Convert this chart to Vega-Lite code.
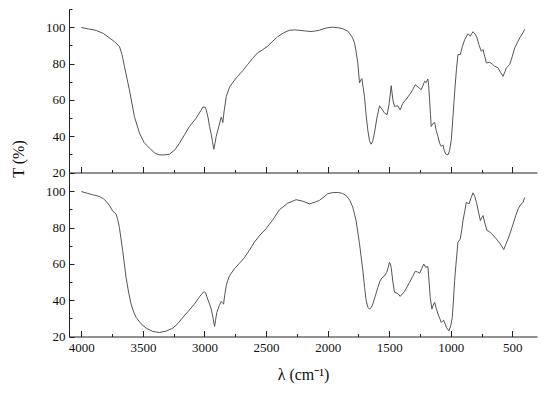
{
  "$schema": "https://vega.github.io/schema/vega-lite/v6.json",
  "padding": {"left": 10, "top": 3, "right": 10, "bottom": 7},
  "spacing": 0,
  "bounds": "flush",
  "background": "white",
  "config": {
    "view": {"stroke": null},
    "axis": {
      "domainColor": "#222", "tickColor": "#222", "labelColor": "#111", "titleColor": "#111",
      "labelFont": "Liberation Serif", "labelFontSize": 13,
      "titleFont": "Liberation Serif", "titleFontSize": 16, "titleFontWeight": "normal",
      "grid": false, "labelOverlap": false, "labelFlush": false
    }
  },
  "datasets": {
    "top": [
      {"wn":4000,"t":99.8},{"wn":3940,"t":99},{"wn":3880,"t":98.2},{"wn":3820,"t":96.5},{"wn":3772,"t":94.1},{"wn":3730,"t":92},{"wn":3691,"t":89.5},{"wn":3670,"t":85},{"wn":3650,"t":78.5},{"wn":3610,"t":65.6},{"wn":3569,"t":50.8},{"wn":3528,"t":41.7},{"wn":3490,"t":36.5},{"wn":3447,"t":33.4},{"wn":3400,"t":30.5},{"wn":3366,"t":29.7},{"wn":3320,"t":29.7},{"wn":3284,"t":30.1},{"wn":3240,"t":32.5},{"wn":3203,"t":36.1},{"wn":3160,"t":41},{"wn":3122,"t":45.3},{"wn":3067,"t":50},{"wn":3030,"t":54},{"wn":3013,"t":56},{"wn":2995,"t":56},{"wn":2986,"t":54.5},{"wn":2970,"t":50},{"wn":2959,"t":45.3},{"wn":2945,"t":41},{"wn":2935,"t":37},{"wn":2924,"t":32.8},{"wn":2915,"t":36},{"wn":2905,"t":39.8},{"wn":2885,"t":45},{"wn":2864,"t":50.5},{"wn":2856,"t":49},{"wn":2851,"t":47.5},{"wn":2840,"t":54},{"wn":2823,"t":61.9},{"wn":2796,"t":67},{"wn":2760,"t":70.5},{"wn":2731,"t":72.9},{"wn":2690,"t":76},{"wn":2650,"t":79.4},{"wn":2610,"t":82.8},{"wn":2568,"t":85.9},{"wn":2530,"t":87.5},{"wn":2487,"t":89.5},{"wn":2450,"t":92},{"wn":2406,"t":94.7},{"wn":2360,"t":96.8},{"wn":2311,"t":98.3},{"wn":2270,"t":98.5},{"wn":2230,"t":98.3},{"wn":2180,"t":97.9},{"wn":2135,"t":97.6},{"wn":2100,"t":97.9},{"wn":2067,"t":98.3},{"wn":2030,"t":99.2},{"wn":1999,"t":99.7},{"wn":1960,"t":100},{"wn":1918,"t":99.7},{"wn":1880,"t":99.2},{"wn":1836,"t":97.8},{"wn":1800,"t":94.5},{"wn":1782,"t":91.4},{"wn":1770,"t":87},{"wn":1755,"t":80.3},{"wn":1741,"t":69.3},{"wn":1730,"t":71},{"wn":1722,"t":71.7},{"wn":1712,"t":67},{"wn":1701,"t":61.9},{"wn":1688,"t":52},{"wn":1674,"t":43.5},{"wn":1660,"t":37.5},{"wn":1647,"t":35.6},{"wn":1635,"t":37},{"wn":1620,"t":41.7},{"wn":1600,"t":50},{"wn":1579,"t":56.7},{"wn":1560,"t":55},{"wn":1538,"t":52.7},{"wn":1517,"t":51.8},{"wn":1500,"t":58},{"wn":1484,"t":67.8},{"wn":1470,"t":60},{"wn":1457,"t":56.4},{"wn":1430,"t":56.7},{"wn":1411,"t":54.5},{"wn":1389,"t":58.2},{"wn":1360,"t":60.5},{"wn":1335,"t":62.8},{"wn":1310,"t":65.5},{"wn":1289,"t":68.3},{"wn":1265,"t":67},{"wn":1240,"t":65.6},{"wn":1225,"t":68},{"wn":1213,"t":70.2},{"wn":1200,"t":69.5},{"wn":1186,"t":71.5},{"wn":1180,"t":68},{"wn":1172,"t":60},{"wn":1165,"t":52},{"wn":1159,"t":45.3},{"wn":1145,"t":47},{"wn":1131,"t":47.5},{"wn":1118,"t":43},{"wn":1104,"t":39.8},{"wn":1090,"t":36},{"wn":1077,"t":34.3},{"wn":1064,"t":35.2},{"wn":1052,"t":32},{"wn":1042,"t":30.2},{"wn":1023,"t":29.7},{"wn":1010,"t":32},{"wn":996,"t":38},{"wn":983,"t":50},{"wn":969,"t":63.8},{"wn":955,"t":76},{"wn":942,"t":84.9},{"wn":923,"t":84.9},{"wn":905,"t":89.5},{"wn":887,"t":93.2},{"wn":860,"t":96.4},{"wn":841,"t":95},{"wn":830,"t":96.5},{"wn":819,"t":97.5},{"wn":800,"t":96},{"wn":787,"t":94.1},{"wn":770,"t":90},{"wn":752,"t":86.7},{"wn":738,"t":87.7},{"wn":725,"t":84},{"wn":711,"t":80.3},{"wn":684,"t":80.7},{"wn":660,"t":79.5},{"wn":644,"t":78.5},{"wn":616,"t":77.6},{"wn":595,"t":75},{"wn":576,"t":72.9},{"wn":560,"t":75.5},{"wn":549,"t":77.6},{"wn":522,"t":79.4},{"wn":500,"t":84},{"wn":481,"t":88.6},{"wn":460,"t":91.5},{"wn":440,"t":94.1},{"wn":415,"t":96.8},{"wn":400,"t":98.8}
    ],
    "bottom": [
      {"wn":4000,"t":99.8},{"wn":3950,"t":98.8},{"wn":3908,"t":98},{"wn":3880,"t":97.6},{"wn":3854,"t":97.1},{"wn":3820,"t":95.8},{"wn":3799,"t":94.5},{"wn":3770,"t":92},{"wn":3745,"t":89},{"wn":3718,"t":87.5},{"wn":3705,"t":84.5},{"wn":3691,"t":80.1},{"wn":3664,"t":67.3},{"wn":3637,"t":52.6},{"wn":3615,"t":44},{"wn":3596,"t":37.9},{"wn":3575,"t":33.5},{"wn":3555,"t":30.5},{"wn":3515,"t":27},{"wn":3474,"t":24.6},{"wn":3420,"t":22.8},{"wn":3366,"t":22.2},{"wn":3310,"t":23},{"wn":3257,"t":24.6},{"wn":3215,"t":27.2},{"wn":3176,"t":30.5},{"wn":3130,"t":34},{"wn":3081,"t":37.9},{"wn":3040,"t":41.9},{"wn":3005,"t":44.7},{"wn":2990,"t":44},{"wn":2981,"t":41.9},{"wn":2962,"t":38.5},{"wn":2945,"t":35.1},{"wn":2930,"t":30},{"wn":2918,"t":25.5},{"wn":2910,"t":29},{"wn":2900,"t":33.2},{"wn":2880,"t":37},{"wn":2864,"t":39.3},{"wn":2855,"t":38.5},{"wn":2845,"t":37.9},{"wn":2835,"t":43},{"wn":2823,"t":48},{"wn":2812,"t":50.7},{"wn":2796,"t":53.5},{"wn":2758,"t":57.2},{"wn":2720,"t":60},{"wn":2677,"t":63.3},{"wn":2635,"t":67.5},{"wn":2595,"t":71.9},{"wn":2550,"t":75.8},{"wn":2500,"t":79.3},{"wn":2446,"t":84.2},{"wn":2392,"t":89.7},{"wn":2324,"t":93.4},{"wn":2256,"t":95.3},{"wn":2202,"t":94.5},{"wn":2148,"t":93},{"wn":2100,"t":94},{"wn":2067,"t":94.9},{"wn":2030,"t":96.8},{"wn":1999,"t":98.6},{"wn":1960,"t":99.2},{"wn":1918,"t":99.3},{"wn":1880,"t":98.8},{"wn":1850,"t":97.6},{"wn":1820,"t":95},{"wn":1796,"t":91.2},{"wn":1769,"t":83.8},{"wn":1741,"t":71},{"wn":1714,"t":56.2},{"wn":1700,"t":47},{"wn":1687,"t":39.7},{"wn":1673,"t":36},{"wn":1660,"t":35.1},{"wn":1645,"t":36},{"wn":1633,"t":37.9},{"wn":1610,"t":43},{"wn":1592,"t":47},{"wn":1575,"t":50.5},{"wn":1560,"t":52.2},{"wn":1540,"t":53.2},{"wn":1520,"t":55.3},{"wn":1508,"t":58},{"wn":1498,"t":60.8},{"wn":1490,"t":60},{"wn":1484,"t":58},{"wn":1470,"t":50},{"wn":1457,"t":44.3},{"wn":1430,"t":43.7},{"wn":1411,"t":42.1},{"wn":1395,"t":43.3},{"wn":1375,"t":44.8},{"wn":1355,"t":47.3},{"wn":1335,"t":49.8},{"wn":1310,"t":53},{"wn":1289,"t":55.9},{"wn":1270,"t":55.5},{"wn":1253,"t":54.8},{"wn":1235,"t":57.5},{"wn":1220,"t":59.9},{"wn":1204,"t":58.1},{"wn":1186,"t":58.5},{"wn":1176,"t":50},{"wn":1167,"t":41.5},{"wn":1153,"t":35.1},{"wn":1145,"t":37},{"wn":1131,"t":38.8},{"wn":1118,"t":35.5},{"wn":1104,"t":32.4},{"wn":1090,"t":30},{"wn":1077,"t":27.7},{"wn":1058,"t":29},{"wn":1046,"t":27},{"wn":1036,"t":25},{"wn":1015,"t":23.1},{"wn":1000,"t":26},{"wn":988,"t":30.5},{"wn":978,"t":40},{"wn":969,"t":50.7},{"wn":955,"t":62},{"wn":942,"t":71.9},{"wn":923,"t":73.7},{"wn":910,"t":79},{"wn":901,"t":83.8},{"wn":885,"t":89.5},{"wn":874,"t":93.9},{"wn":852,"t":93},{"wn":835,"t":96.5},{"wn":819,"t":99.1},{"wn":805,"t":97},{"wn":792,"t":93.9},{"wn":775,"t":88.5},{"wn":760,"t":83.8},{"wn":748,"t":85.5},{"wn":738,"t":86.6},{"wn":722,"t":82},{"wn":706,"t":78.3},{"wn":690,"t":77.8},{"wn":671,"t":76.8},{"wn":650,"t":75.3},{"wn":630,"t":73.7},{"wn":610,"t":72},{"wn":589,"t":70},{"wn":570,"t":67.8},{"wn":555,"t":70.5},{"wn":535,"t":73.7},{"wn":515,"t":77.5},{"wn":494,"t":82},{"wn":473,"t":86.5},{"wn":453,"t":90.3},{"wn":433,"t":92.5},{"wn":413,"t":93.9},{"wn":400,"t":96.5}
    ]
  },
  "vconcat": [
    {
      "width": 468,
      "height": 163.5,
      "data": {"name": "top"},
      "mark": {"type": "line", "color": "#555", "strokeWidth": 1},
      "encoding": {
        "x": {"field": "wn", "type": "quantitative",
          "scale": {"domain": [300, 4100], "reverse": true, "nice": false, "zero": false},
          "axis": {"title": null, "labels": false,
            "values": [4000,3750,3500,3250,3000,2750,2500,2250,2000,1750,1500,1250,1000,750,500],
            "tickSize": {"condition": {"test": "datum.value % 500 == 0", "value": -6}, "value": -3}}},
        "y": {"field": "t", "type": "quantitative",
          "scale": {"domain": [20, 110], "nice": false, "zero": false},
          "axis": {"title": "T (%)", "titleX": -51, "titleY": 149.5, "titleAngle": -90, "titleBaseline": "middle", "titleAlign": "center",
            "values": [20,30,40,50,60,70,80,90,100,110],
            "labelExpr": "(datum.value % 20 == 0 && datum.value <= 100) ? datum.label : ''",
            "labelPadding": 9,
            "tickSize": {"condition": {"test": "datum.value % 20 == 0", "value": -5}, "value": -3}}}
      }
    },
    {
      "width": 468,
      "height": 163.5,
      "data": {"name": "bottom"},
      "mark": {"type": "line", "color": "#555", "strokeWidth": 1},
      "encoding": {
        "x": {"field": "wn", "type": "quantitative",
          "scale": {"domain": [300, 4100], "reverse": true, "nice": false, "zero": false},
          "axis": {"title": "λ (cm⁻¹)", "titlePadding": 9, "format": "d",
            "values": [4000,3750,3500,3250,3000,2750,2500,2250,2000,1750,1500,1250,1000,750,500],
            "labelExpr": "datum.value % 500 == 0 ? datum.label : ''",
            "labelPadding": 11,
            "tickSize": {"condition": {"test": "datum.value % 500 == 0", "value": -6}, "value": -3}}},
        "y": {"field": "t", "type": "quantitative",
          "scale": {"domain": [20, 110], "nice": false, "zero": false},
          "axis": {"title": null,
            "values": [20,30,40,50,60,70,80,90,100,110],
            "labelExpr": "(datum.value % 20 == 0 && datum.value <= 100) ? datum.label : ''",
            "labelPadding": 9,
            "tickSize": {"condition": {"test": "datum.value % 20 == 0", "value": -5}, "value": -3}}}
      }
    }
  ]
}
